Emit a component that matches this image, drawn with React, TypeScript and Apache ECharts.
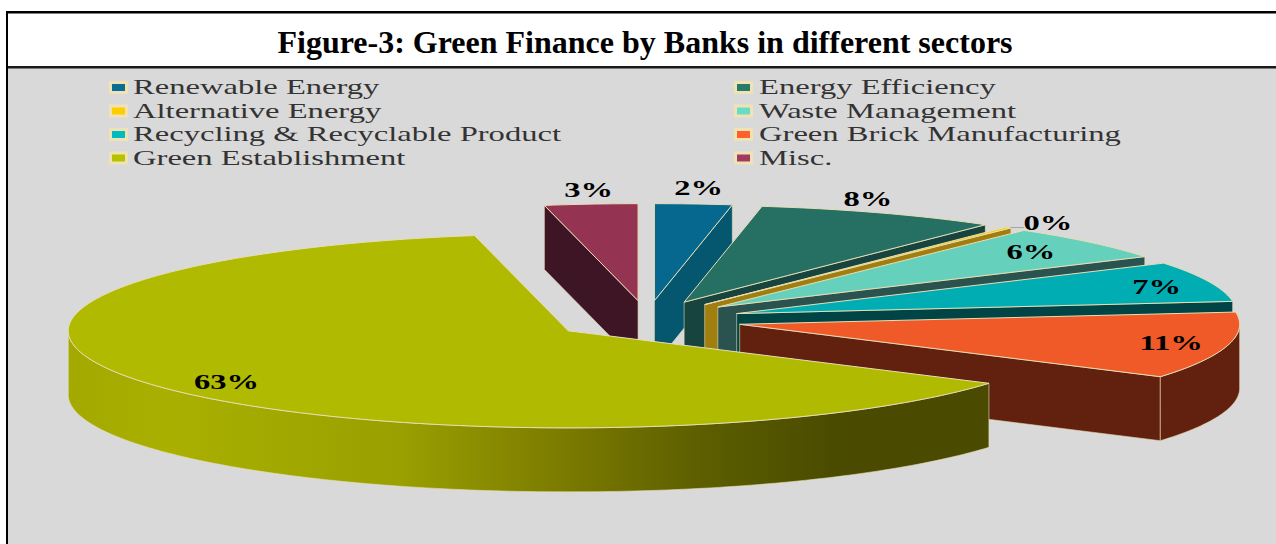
import React, { useEffect, useRef } from "react";
import * as echarts from "echarts";

const titleText = "Figure-3: Green Finance by Banks in different sectors";

// Sector shares in percent, clockwise from twelve o'clock.
const categories = [
  "Renewable Energy",
  "Energy Efficiency",
  "Alternative Energy",
  "Waste Management",
  "Recycling & Recyclable Product",
  "Green Brick Manufacturing",
  "Green Establishment",
  "Misc.",
];
const shares = [2.49, 7.8, 0.2, 5.8, 6.7, 11.1, 62.91, 3.0];

const topColors = ["#07688f", "#256f63", "#ffcc00", "#65d1bd", "#00adb3", "#f05a28", "#afba00", "#953353"];
const wallColors = ["#05566f", "#17443f", "#a07f10", "#2a534f", "#004446", "#62210f", "#4a4a00", "#3d1525"];
const swatchColors = ["#0a6d94", "#2a7a6c", "#ffcc00", "#6adcc6", "#00bcc2", "#ff5f2a", "#b5c200", "#a03a60"];

// Where each percentage sits, as multiples of the slice radii from the slice's own apex.
const labelReach = [
  [1.13, 1.16],
  [0.94, 1.15],
  [1.13, 1.06],
  [0.84, 0.85],
  [0.89, 0.84],
  [0.885, 0.89],
  [0.825, 0.94],
  [1.05, 1.15],
];

// Lighting across the outer wall of a gradient-shaded slice, left to right.
const wallShade = [
  [0, "#a3a900"],
  [0.11, "#a9b000"],
  [0.36, "#99a000"],
  [0.51, "#808000"],
  [0.69, "#5c5e00"],
  [0.84, "#4a4a00"],
  [1, "#4a4a00"],
] as [number, string][];
const shadedSlice = 6;

const CX = 647;
const CY = 320;
const RX = 500;
const RY = 97;
const DEPTH = 64;
const EXPLODE_X = 0.19;
const EXPLODE_Y = 0.2;
const EDGE = "#e8ddb5";
const SERIF = "Liberation Serif";

const rad = (deg: number) => (deg * Math.PI) / 180;

// Slice extents in degrees, measured clockwise from twelve o'clock.
const total = shares.reduce((a, b) => a + b, 0);
let running = 0;
const slices = shares.map((v, index) => {
  const a0 = running;
  running += (v / total) * 360;
  const a1 = running;
  const mid = (a0 + a1) / 2;
  return {
    index,
    a0,
    a1,
    mid,
    ax: CX + EXPLODE_X * RX * Math.sin(rad(mid)),
    ay: CY - EXPLODE_Y * RY * Math.cos(rad(mid)),
  };
});
// Slices nearer the viewer are painted later.
const paintOrder = [...slices].sort((p, q) => p.ay - q.ay).map((s) => s.index);

const rimPoint = (s: (typeof slices)[number], a: number, drop = 0) => [
  s.ax + RX * Math.sin(rad(a)),
  s.ay - RY * Math.cos(rad(a)) + drop,
];

const arc = (s: (typeof slices)[number], from: number, to: number, drop = 0) => {
  const steps = Math.max(2, Math.ceil(to - from));
  const pts: number[][] = [];
  for (let i = 0; i <= steps; i++) pts.push(rimPoint(s, from + ((to - from) * i) / steps, drop));
  return pts;
};

const poly = (points: number[][], fill: any, lineWidth = 0.8) => ({
  type: "polygon",
  shape: { points },
  style: { fill, stroke: EDGE, lineWidth },
});

function renderSlice(params: any) {
  const s = slices[paintOrder[params.dataIndex]];
  const i = s.index;
  const children: any[] = [];

  const radialWall = (a: number) => {
    const rim = rimPoint(s, a);
    children.push(
      poly([[s.ax, s.ay], rim, [rim[0], rim[1] + DEPTH], [s.ax, s.ay + DEPTH]], wallColors[i], 0.6),
    );
  };
  // A cut face shows only when it turns towards the viewer.
  if (Math.sin(rad(s.a0)) < 0) radialWall(s.a0);
  if (Math.sin(rad(s.a1)) > 0) radialWall(s.a1);

  // The outer wall shows along the front half of the rim.
  const from = Math.max(s.a0, 90);
  const to = Math.min(s.a1, 270);
  if (to > from) {
    const wallFill =
      i === shadedSlice
        ? new echarts.graphic.LinearGradient(
            0,
            0,
            1,
            0,
            wallShade.map(([offset, color]) => ({ offset, color })),
          )
        : wallColors[i];
    children.push(poly([...arc(s, from, to), ...arc(s, from, to, DEPTH).reverse()], wallFill, 0.6));
  }

  children.push(poly([[s.ax, s.ay], ...arc(s, s.a0, s.a1)], topColors[i], 1));

  const [kx, ky] = labelReach[i];
  const lx = s.ax + kx * RX * Math.sin(rad(s.mid));
  const ly = s.ay - ky * RY * Math.cos(rad(s.mid));

  // Very thin slices get a short leader towards their label.
  if (shares[i] < 1) {
    const rim = rimPoint(s, s.mid);
    children.push({
      type: "line",
      shape: { x1: rim[0] + 2, y1: rim[1], x2: lx - 24, y2: rim[1] },
      style: { stroke: "#a6a6a6", lineWidth: 1 },
    });
  }

  children.push({
    type: "text",
    x: lx,
    y: ly,
    scaleX: 1.55,
    z2: 10,
    style: {
      text: `${Math.round(shares[i])}%`,
      fontFamily: SERIF,
      fontSize: 21,
      fontWeight: "bold",
      fill: "#000000",
      align: "center",
      verticalAlign: "middle",
    },
  });

  return { type: "group", children };
}

// Two-column key, filled row by row.
const legendColumns = [
  { box: 109, text: 133 },
  { box: 734, text: 759 },
];
const legendTop = 87.5;
const legendPitch = 23.5;

function legendElements() {
  const out: any[] = [];
  categories.forEach((name, i) => {
    const col = legendColumns[i % 2];
    const y = legendTop + Math.floor(i / 2) * legendPitch;
    out.push({
      type: "rect",
      z: 10,
      shape: { x: col.box + 1.5, y: y - 5, width: 16, height: 10 },
      style: { fill: swatchColors[i], stroke: "#efe3b6", lineWidth: 3 },
    });
    out.push({
      type: "text",
      z: 10,
      x: col.text,
      y,
      scaleX: 1.63,
      style: {
        text: name,
        fontFamily: SERIF,
        fontSize: 20,
        fill: "#333333",
        align: "left",
        verticalAlign: "middle",
      },
    });
  });
  return out;
}

export default function App() {
  const ref = useRef<HTMLDivElement>(null);

  useEffect(() => {
    const chart = echarts.init(ref.current!, undefined, { renderer: "svg" });
    chart.setOption({
      animation: false,
      backgroundColor: "#ffffff",
      title: {
        text: titleText,
        left: 640,
        top: 21,
        textAlign: "center",
        textStyle: { fontFamily: SERIF, fontSize: 32, fontWeight: "bold", color: "#000000" },
      },
      graphic: [
        // Panel behind the pie and the rules around the title band.
        { type: "rect", z: -1, shape: { x: 7, y: 67, width: 1269, height: 477 }, style: { fill: "#d9d9d9" } },
        { type: "rect", z: 1, shape: { x: 6, y: 11, width: 1270, height: 2.5 }, style: { fill: "#000000" } },
        { type: "rect", z: 1, shape: { x: 6, y: 66, width: 1270, height: 2.5 }, style: { fill: "#1a1a1a" } },
        { type: "rect", z: 1, shape: { x: 6, y: 11, width: 2, height: 533 }, style: { fill: "#000000" } },
        ...legendElements(),
      ],
      series: [
        {
          type: "custom",
          coordinateSystem: "none",
          renderItem: renderSlice,
          clip: false,
          data: paintOrder.map((i) => ({ name: categories[i], value: [shares[i]] })),
        },
      ],
    });
    return () => chart.dispose();
  }, []);

  return <div ref={ref} style={{ position: "absolute", left: 0, top: 0, width: 1276, height: 544 }} />;
}
